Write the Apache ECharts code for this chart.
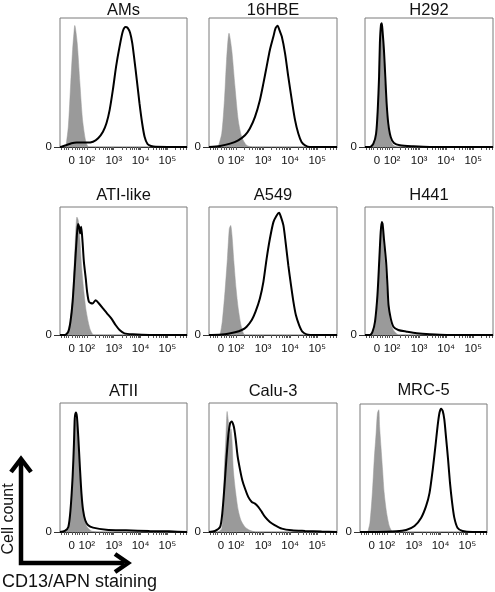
<!DOCTYPE html>
<html>
<head>
<meta charset="utf-8">
<script src="https://cdn.jsdelivr.net/npm/echarts@6/dist/echarts.min.js"></script>
<style>
html,body{margin:0;padding:0;background:#fff;}
#chart{width:495px;height:592px;}
</style>
</head>
<body>
<div id="chart"></div>
<script>
// ---- data (x: log-like display units, 10^k at k; y: % of max count) ----
const panelNames = ['AMs', '16HBE', 'H292', 'ATI-like', 'A549', 'H441', 'ATII', 'Calu-3', 'MRC-5'];
const xTickValues = [1.44, 2, 3, 4, 5];
const xTickLabels = ['0', '10²', '10³', '10⁴', '10⁵'];
const yTickValues = [0];
const yTickLabels = ['0'];

const amsCtrl = [[1.22,0],[1.31,15.8],[1.40,49.8],[1.47,75.5],[1.52,88.7],[1.55,94.2],[1.64,80.9],[1.74,49.8],[1.84,21],[1.96,4.1],[2.05,0]];
const amsStain = [[1.0,0],[1.06,0.2],[1.25,1.6],[1.43,2.9],[1.62,3.4],[1.99,3.4],[2.23,4.1],[2.42,6.8],[2.60,11.9],[2.73,18.4],[2.85,28.8],[2.97,44.4],[3.09,62.5],[3.22,78],[3.34,89.7],[3.44,93.1],[3.52,92.4],[3.61,88.5],[3.69,80.7],[3.77,67.7],[3.86,52.1],[3.96,34],[4.06,18.4],[4.15,8],[4.26,2.3],[4.39,0.8],[4.57,0.2],[5.73,0]];

const hbeCtrl = [[1.34,0],[1.47,10.4],[1.57,36.3],[1.65,67.5],[1.74,88.2],[1.84,75.2],[1.96,46.7],[2.08,20.8],[2.21,7.8],[2.39,1.3],[2.58,0]];
const hbeStain = [[1.0,0],[1.41,0.8],[1.78,2.6],[2.08,5.2],[2.33,9.1],[2.51,14.3],[2.70,23.3],[2.88,36.3],[3.01,49.3],[3.13,62.3],[3.25,75.2],[3.38,85.6],[3.46,92.1],[3.54,93.9],[3.60,90.8],[3.69,85.6],[3.81,72.6],[3.93,54.5],[4.06,36.3],[4.18,20.8],[4.30,10.4],[4.42,3.9],[4.55,1.3],[4.73,0],[5.73,0]];

const h292Ctrl = [[1.25,0],[1.39,7.8],[1.46,25.9],[1.52,54.5],[1.55,80],[1.59,93],[1.63,90],[1.68,73],[1.74,48],[1.80,27.5],[1.86,13.5],[1.95,5],[2.05,1.3],[2.17,0]];
const h292Stain = [[1.0,0],[1.18,0],[1.31,2.6],[1.41,10.4],[1.47,28.5],[1.52,54.5],[1.55,80.4],[1.59,94.7],[1.62,96],[1.65,89.5],[1.70,75.2],[1.75,54.5],[1.80,33.7],[1.86,18.2],[1.95,7.8],[2.07,3.1],[2.29,1.3],[2.78,0.5],[3.40,0],[5.73,0]];

const atiCtrl = [[1.25,0],[1.37,10.4],[1.47,31.1],[1.54,59.7],[1.59,83],[1.63,92.1],[1.68,89.5],[1.74,75.2],[1.81,51.9],[1.89,33.7],[1.96,20.8],[2.05,10.4],[2.13,3.9],[2.23,0]];
const atiStain = [[1.0,0],[1.18,0],[1.31,2.6],[1.39,10.4],[1.47,25.9],[1.55,51.9],[1.62,75.2],[1.67,86.8],[1.71,84.6],[1.75,79.4],[1.79,84.6],[1.84,72.6],[1.89,57.1],[1.96,44.1],[2.01,33.7],[2.08,25.9],[2.21,24.6],[2.33,27.2],[2.45,24.6],[2.60,20.8],[2.75,16.9],[2.91,13],[3.07,7.8],[3.22,3.9],[3.40,1.3],[3.71,0.5],[4.33,0],[5.73,0]];

const a549Ctrl = [[1.41,0],[1.49,10.4],[1.59,33.7],[1.68,59.7],[1.75,83],[1.80,85.6],[1.85,77.8],[1.92,57.1],[2.00,36.3],[2.08,20.8],[2.18,7.8],[2.27,1.3],[2.33,0]];
const a549Stain = [[1.0,0],[1.10,0],[1.59,0.5],[1.96,2.1],[2.21,3.9],[2.39,6.5],[2.58,11.7],[2.72,18.2],[2.88,28.5],[3.01,41.5],[3.13,59.7],[3.25,75.2],[3.38,88.2],[3.50,93.4],[3.59,95.5],[3.66,92.1],[3.75,85.6],[3.83,72.6],[3.93,54.5],[4.03,38.9],[4.12,25.9],[4.21,15.6],[4.33,7.8],[4.45,2.6],[4.61,0.5],[4.92,0],[5.73,0]];

const h441Ctrl = [[1.25,0],[1.37,6.5],[1.46,25.9],[1.53,54.5],[1.58,77.8],[1.62,85.6],[1.65,83],[1.71,64.8],[1.78,44.1],[1.83,28.5],[1.89,15.6],[1.99,6.5],[2.11,2.1],[2.23,0]];
const h441Stain = [[1.0,0],[1.18,0],[1.28,2.6],[1.37,10.4],[1.46,31.1],[1.53,59.7],[1.58,80.4],[1.62,88.2],[1.65,86.8],[1.70,75.2],[1.78,57.1],[1.83,38.9],[1.87,23.3],[1.95,13],[2.05,6.5],[2.23,3.9],[2.54,2.6],[2.91,1.3],[3.40,0.5],[4.02,0],[5.73,0]];

const atiiCtrl = [[1.18,0],[1.31,2.6],[1.39,14.3],[1.47,37.6],[1.52,63.6],[1.55,81.7],[1.59,88.2],[1.64,81.7],[1.70,60.9],[1.76,37.6],[1.84,19.5],[1.92,9.1],[2.01,3.9],[2.17,0.8],[2.36,0]];
const atiiStain = [[1.0,0],[1.18,0.8],[1.31,3.9],[1.39,16.9],[1.47,42.8],[1.52,68.7],[1.55,88.2],[1.59,92.6],[1.63,89.5],[1.68,74],[1.74,50.6],[1.80,29.8],[1.86,16.9],[1.94,9.1],[2.05,5.2],[2.23,3.4],[2.72,1.8],[3.46,1.3],[4.33,0.8],[5.06,0.5],[5.73,0]];

const calu3Ctrl = [[1.34,0],[1.47,2.6],[1.53,19.5],[1.57,50.6],[1.62,71.3],[1.67,93.4],[1.69,93.4],[1.71,87],[1.76,74],[1.81,80],[1.85,71.3],[1.90,48],[1.99,29.8],[2.08,16.9],[2.18,9.1],[2.33,3.9],[2.51,1.3],[2.70,0]];
const calu3Stain = [[1.0,0],[1.22,0.8],[1.41,3.9],[1.49,14.3],[1.57,35],[1.64,55.8],[1.71,74],[1.78,84.3],[1.84,85.6],[1.90,83],[1.94,79.1],[1.99,71.3],[2.06,58.4],[2.15,48],[2.23,40.2],[2.33,33.7],[2.45,27.2],[2.58,23.3],[2.70,22],[2.82,19.5],[2.95,15.6],[3.07,11.7],[3.25,7.8],[3.44,5.2],[3.69,2.6],[4.06,1.3],[4.55,0.8],[5.16,0.3],[5.73,0]];

const mrc5Ctrl = [[1.29,0],[1.37,7.3],[1.46,30.6],[1.53,56.5],[1.60,77.3],[1.65,92.9],[1.70,95.5],[1.73,82.5],[1.78,66.9],[1.84,48.8],[1.90,30.6],[1.99,15.1],[2.09,4.7],[2.18,0.8],[2.25,0]];
const mrc5Stain = [[1.0,0],[1.62,0],[2.36,0.5],[2.72,1.6],[3.03,4.7],[3.28,11.2],[3.46,20.2],[3.59,30.6],[3.71,49],[3.81,67.2],[3.89,82.8],[3.96,93.2],[4.02,96.3],[4.08,94.6],[4.14,87.9],[4.20,74.9],[4.28,56.8],[4.35,38.7],[4.43,23.1],[4.51,11.4],[4.63,3.4],[4.82,0.8],[5.19,0],[5.73,0]];

const ctrlSeries = [amsCtrl, hbeCtrl, h292Ctrl, atiCtrl, a549Ctrl, h441Ctrl, atiiCtrl, calu3Ctrl, mrc5Ctrl];
const stainSeries = [amsStain, hbeStain, h292Stain, atiStain, a549Stain, h441Stain, atiiStain, calu3Stain, mrc5Stain];

// ---- layout ----
const FONT = '"Liberation Sans", Arial, Helvetica, sans-serif';
const rects = [
  [60, 18, 127, 129], [209, 18, 128, 129], [365, 18, 128, 129],
  [60, 207, 127, 128], [209, 207, 128, 128], [365, 207, 128, 128],
  [60, 403, 127, 129], [209, 403, 128, 129], [360, 404, 127, 128]
];
const titleCenterY = [11, 11, 11, 196, 196, 196, 392.5, 392.5, 391.5];

// tick marks along x (log-like minor ticks)
const minorTicks = [];
[1.05, 1.14, 1.23, 1.32, 1.44, 1.55, 1.64, 1.73, 1.82, 1.91].forEach(v => minorTicks.push(v));
for (let d = 2; d <= 5; d++) {
  for (let k = 1; k <= 9; k++) {
    const v = d + Math.log10(k);
    if (v <= 5.72) minorTicks.push(+v.toFixed(4));
  }
}

const grids = [], xAxes = [], yAxes = [], series = [], titles = [];
panelNames.forEach((name, i) => {
  const [l, t, w, h] = rects[i];
  grids.push({left: l, top: t, width: w, height: h, show: true, borderColor: '#7a7a7a', borderWidth: 1, backgroundColor: 'transparent'});
  xAxes.push({
    type: 'value', gridIndex: i, min: 1.0, max: 5.73,
    axisLine: {show: true, lineStyle: {color: '#333', width: 1}},
    axisTick: {show: true, customValues: minorTicks, length: 3, lineStyle: {color: '#555', width: 1}},
    axisLabel: {
      show: true, customValues: xTickValues, margin: 8, fontSize: 11.5, color: '#111', fontFamily: FONT,
      formatter: v => { let bi = 0, bd = 1e9; xTickValues.forEach((x, j) => { const dd = Math.abs(x - v); if (dd < bd) { bd = dd; bi = j; } }); return xTickLabels[bi]; }
    },
    splitLine: {show: false}
  });
  yAxes.push({
    type: 'value', gridIndex: i, min: 0, max: 100,
    axisLine: {show: false},
    axisTick: {show: true, customValues: yTickValues, length: 6, lineStyle: {color: '#333'}},
    axisLabel: {show: true, customValues: yTickValues, margin: 8, fontSize: 11.5, color: '#111', fontFamily: FONT,
      formatter: v => yTickLabels[yTickValues.indexOf(v)] || ''},
    splitLine: {show: false}
  });
  series.push({
    type: 'line', xAxisIndex: i, yAxisIndex: i, data: ctrlSeries[i], showSymbol: false, smooth: 0.25,
    lineStyle: {color: '#9a9a9a', width: 0.5}, areaStyle: {color: '#9a9a9a', opacity: 1}, z: 2, animation: false
  });
  series.push({
    type: 'line', xAxisIndex: i, yAxisIndex: i, data: stainSeries[i], showSymbol: false, smooth: 0.25,
    lineStyle: {color: '#000', width: 2}, z: 3, animation: false
  });
  titles.push({
    text: name, left: l + w / 2, top: titleCenterY[i] - 9.5, textAlign: 'center', padding: 0,
    textStyle: {fontSize: 16.5, fontWeight: 'normal', color: '#111', fontFamily: FONT}
  });
});

const graphic = [
  {type: 'polyline', shape: {points: [[21, 462], [21, 563], [124, 563]]}, style: {stroke: '#000', lineWidth: 4.5, fill: null, lineJoin: 'miter'}},
  {type: 'polyline', shape: {points: [[11, 472], [21, 459], [31, 472]]}, style: {stroke: '#000', lineWidth: 4.5, fill: null, lineJoin: 'miter'}},
  {type: 'polyline', shape: {points: [[115, 554], [128, 563], [115, 572]]}, style: {stroke: '#000', lineWidth: 4.5, fill: null, lineJoin: 'miter'}},
  {type: 'text', x: 8.5, y: 519, rotation: Math.PI / 2, style: {text: 'Cell count', fontSize: 16, fontFamily: FONT, fill: '#111', align: 'center', verticalAlign: 'middle'}},
  {type: 'text', x: 2, y: 582.5, style: {text: 'CD13/APN staining', fontSize: 18, fontFamily: FONT, fill: '#111', align: 'left', verticalAlign: 'middle'}}
];

const chart = echarts.init(document.getElementById('chart'), null, {renderer: 'canvas'});
chart.setOption({
  animation: false,
  backgroundColor: '#fff',
  title: titles,
  grid: grids,
  xAxis: xAxes,
  yAxis: yAxes,
  series: series,
  graphic: graphic
});
</script>
</body>
</html>
